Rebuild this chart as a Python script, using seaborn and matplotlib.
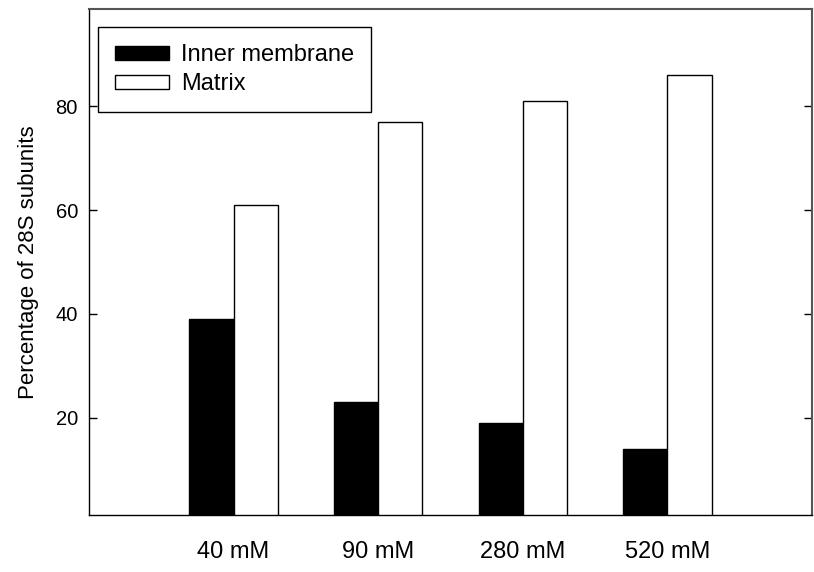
import matplotlib
matplotlib.use("Agg")
import matplotlib.pyplot as plt
import seaborn as sns
import pandas as pd

# data
concentrations = ["40 mM", "90 mM", "280 mM", "520 mM"]
inner_membrane = [39, 23, 19, 14]
matrix = [61, 77, 81, 86]
fractions = ["Inner membrane", "Matrix"]

df = pd.DataFrame({
    "conc": concentrations * 2,
    "pct": inner_membrane + matrix,
    "fraction": [fractions[0]] * 4 + [fractions[1]] * 4,
})

sns.set_style("white")
plt.rcParams['font.family'] = ['Liberation Sans', 'DejaVu Sans']
plt.rcParams['text.color'] = 'black'
plt.rcParams['axes.labelcolor'] = 'black'
plt.rcParams['xtick.color'] = 'black'
plt.rcParams['ytick.color'] = 'black'

fig = plt.figure(figsize=(8.14, 5.72), dpi=100)
ax = fig.add_axes([89 / 814, 1 - 515 / 572, (812 - 89) / 814, (515 - 9) / 572])

sns.barplot(data=df, x="conc", y="pct", hue="fraction", order=concentrations,
            hue_order=fractions, palette={"Inner membrane": "black", "Matrix": "white"},
            edgecolor="black", linewidth=1, width=0.61, ax=ax)

ax.set_xlim(-1, 4)
ax.set_ylim(1.3, 98.7)
ax.set_yticks([20, 40, 60, 80])
ax.set_xlabel("")
ax.set_ylabel("Percentage of 28S subunits", fontsize=16, labelpad=12)

ax.tick_params(axis="x", length=0, pad=19, labelsize=17)
ax.tick_params(axis="y", direction="in", left=True, right=True, length=6,
               width=1, pad=8, labelsize=14.5, color="black")

for side in ["left", "bottom"]:
    ax.spines[side].set_color("black")
    ax.spines[side].set_linewidth(1)
for side in ["top", "right"]:
    ax.spines[side].set_color("#555555")
    ax.spines[side].set_linewidth(1.5)

handles, labels = ax.get_legend_handles_labels()
leg = ax.legend(handles, labels, loc="upper left",
                bbox_to_anchor=((98 - 89) / 723, 1 - (27 - 9) / 506),
                borderaxespad=0, fontsize=17, handlelength=2.3, handleheight=0.55,
                handletextpad=0.5, labelspacing=0.3, borderpad=0.72,
                fancybox=False, frameon=True, framealpha=1)
leg.get_frame().set_edgecolor("black")
leg.get_frame().set_linewidth(1)

fig.savefig("out.png", dpi=100)
